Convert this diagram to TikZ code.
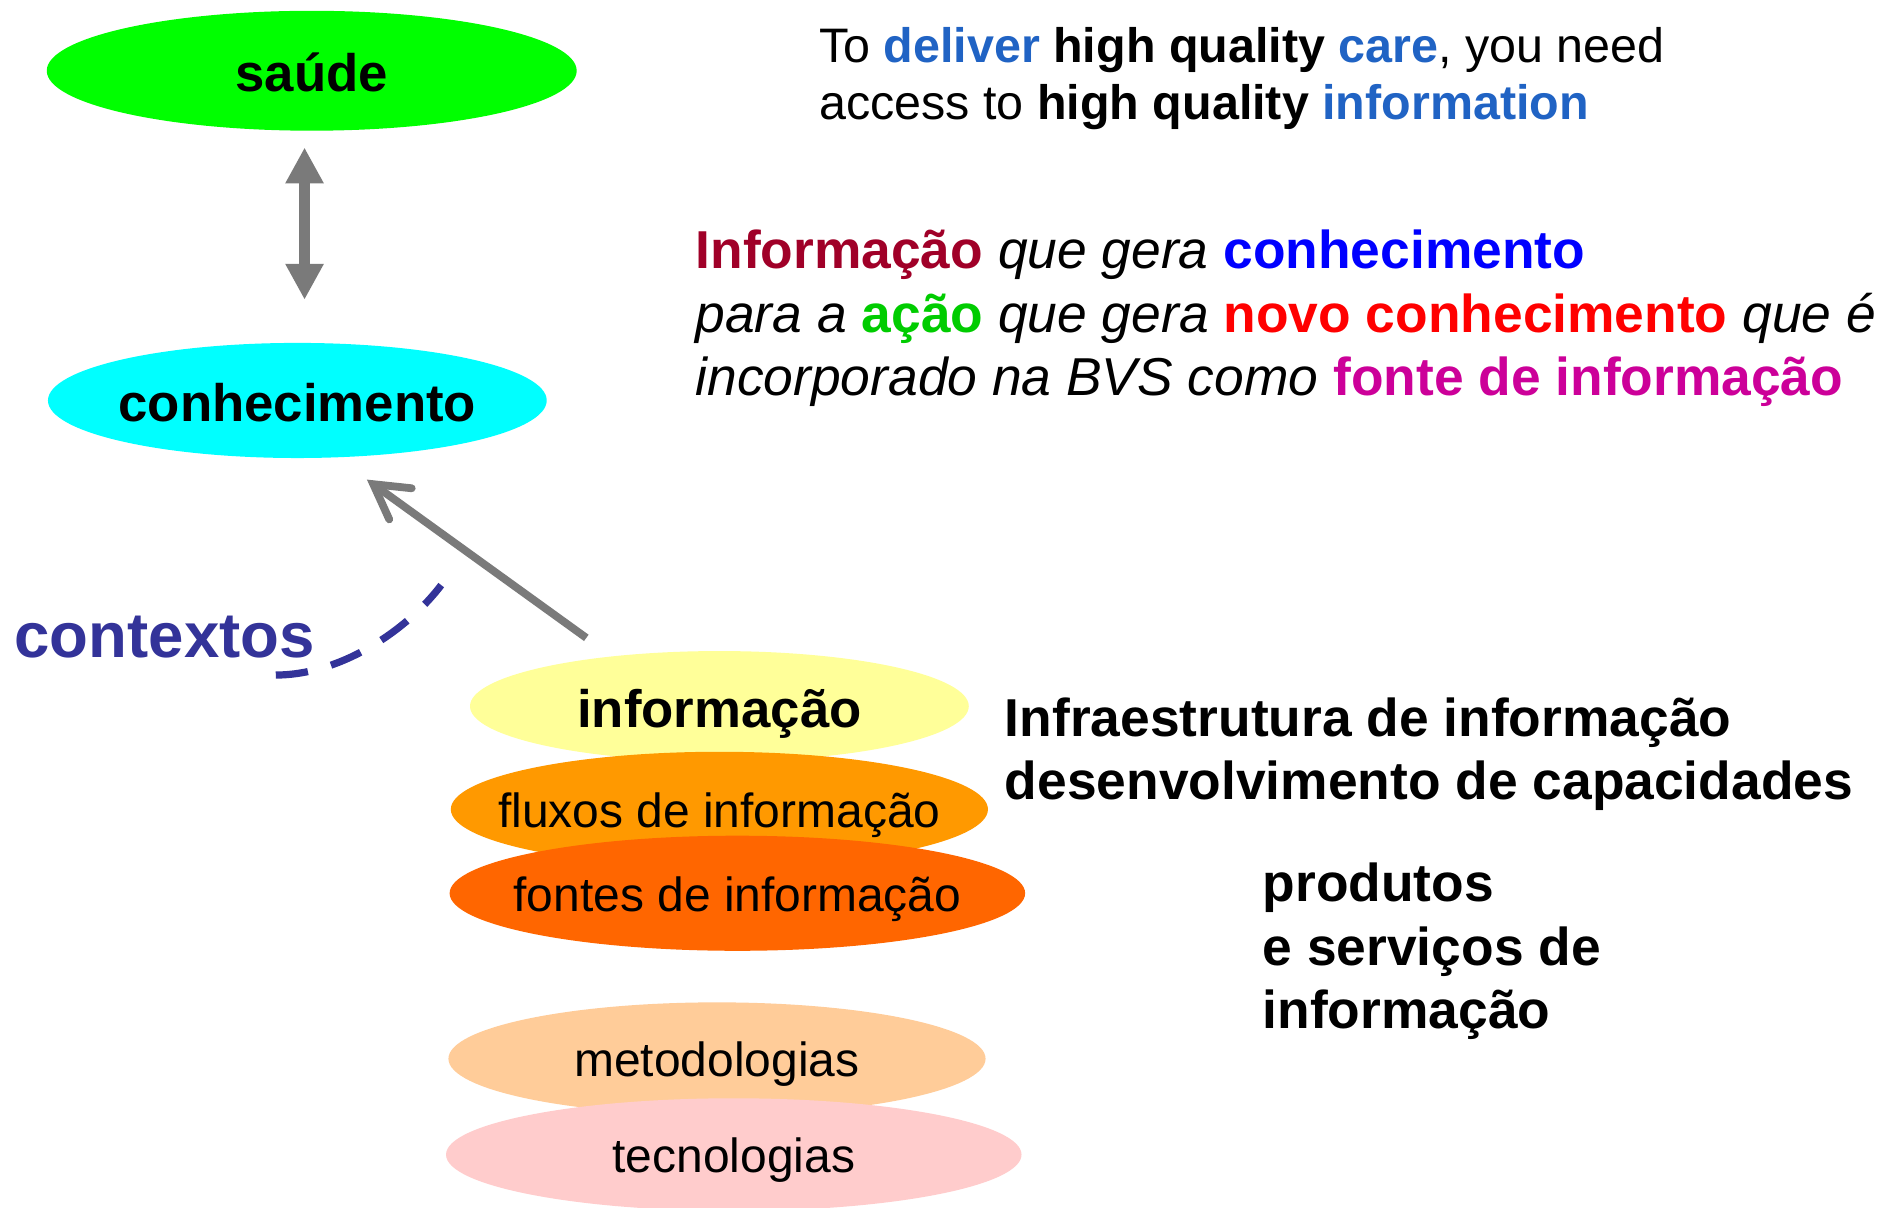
\documentclass[tikz,border=0pt]{standalone}
\usepackage{fontspec}
\setmainfont{Liberation Sans}
\usetikzlibrary{shapes.geometric,arrows.meta}
\definecolor{cgreen}{HTML}{00FF00}
\definecolor{ccyan}{HTML}{00FFFF}
\definecolor{cyel}{HTML}{FFFF99}
\definecolor{corange}{HTML}{FF9900}
\definecolor{cdorange}{HTML}{FF6600}
\definecolor{cpeach}{HTML}{FFCC99}
\definecolor{cpink}{HTML}{FFCCCC}
\definecolor{cgray}{HTML}{7A7A7A}
\definecolor{cctx}{HTML}{333399}
\definecolor{eblue}{HTML}{2063C4}
\definecolor{cdred}{HTML}{A00028}
\definecolor{cblue}{HTML}{0000FF}
\definecolor{cacao}{HTML}{00CC00}
\definecolor{cred}{HTML}{FF0000}
\definecolor{cmag}{HTML}{CC0099}
\newcommand\fsBig{\fontsize{44}{53}\selectfont\bfseries}
\newcommand\fsRight{\fontsize{44.5}{53}\selectfont\bfseries}
\newcommand\fsReg{\fontsize{40}{48}\selectfont}
\newcommand\fsEng{\fontsize{40.4}{48}\selectfont}
\newcommand\fsPt{\fontsize{44.5}{53}\selectfont}
\newcommand\fsCtx{\fontsize{53}{60}\selectfont\bfseries}
\begin{document}
\begin{tikzpicture}[x=1pt,y=-1pt,
  ell/.style={ellipse, draw=none, inner sep=0pt},
  lblb/.style={inner sep=0pt, text height=35pt, text depth=0pt, text=black, font=\fsBig},
  lblr/.style={inner sep=0pt, text height=30pt, text depth=0pt, text=black, font=\fsReg},
  txt/.style={inner sep=0pt, anchor=base west},
  dblarrow/.style={draw=cgray, line width=9pt, {Triangle[length=30pt,width=30pt]}-{Triangle[length=30pt,width=30pt]}},
  diagarrow/.style={draw=cgray, line width=6.5pt, -{Straight Barb[length=28pt,width=32pt,line cap=round,line join=miter]}},
  ctxline/.style={draw=cctx, line width=6pt, dash pattern=on 27pt off 20pt}
]
\useasboundingbox[fill=white] (0,0) rectangle (1568,1007);

% left ellipses
\node[ell, fill=cgreen, minimum width=442pt, minimum height=100pt,
      label={[lblb]center:saúde}] (saude) at (260,59) {};
\node[ell, fill=ccyan, minimum width=416pt, minimum height=96pt,
      label={[lblb]center:conhecimento}] (conh) at (248,334) {};

% stacked ellipses
\node[ell, fill=cyel, minimum width=416pt, minimum height=92pt,
      label={[lblb]center:informação}] (info) at (600,589) {};
\node[ell, fill=corange, minimum width=448pt, minimum height=96pt,
      label={[lblr]center:fluxos de informação}] (fluxos) at (600,675) {};
\node[ell, fill=cdorange, minimum width=480pt, minimum height=96pt,
      label={[lblr]center:fontes de informação}] (fontes) at (615,745) {};
\node[ell, fill=cpeach, minimum width=448pt, minimum height=94pt,
      label={[lblr]center:metodologias}] (metod) at (598,883) {};
\node[ell, fill=cpink, minimum width=480pt, minimum height=94pt,
      label={[lblr]center:tecnologias}] (tecno) at (612,963) {};

% arrows
\coordinate (dTop) at (254,123);
\coordinate (dBot) at (254,250);
\draw[dblarrow] (dTop) -- (dBot);

\coordinate (aStart) at (489,532);
\coordinate (aTip) at (306,400);
\draw[diagarrow] (aStart) -- (aTip);

% contextos
\node[txt, text=cctx, font=\fsCtx] (ctx) at (12,548) {contextos};
\coordinate (cA) at (230,563);
\coordinate (cB) at (368,488);
\draw[ctxline] (cA) .. controls (285,563) and (340,525) .. (cB);

% English text
\node[txt, font=\fsEng] (en1) at (683,52)
  {To \textbf{\textcolor{eblue}{deliver}} \textbf{high quality} \textbf{\textcolor{eblue}{care}}, you need};
\node[txt, font=\fsEng] (en2) at (683,100)
  {access to \textbf{high quality} \textbf{\textcolor{eblue}{information}}};

% Portuguese text
\node[txt, font=\fsPt] (pt1) at (580,224)
  {\textbf{\textcolor{cdred}{Informação}} \textit{que gera} \textbf{\textcolor{cblue}{conhecimento}}};
\node[txt, font=\fsPt] (pt2) at (580,277)
  {\textit{para a} \textbf{\textcolor{cacao}{ação}} \textit{que gera} \textbf{\textcolor{cred}{novo conhecimento}} \textit{que é}};
\node[txt, font=\fsPt] (pt3) at (580,330)
  {\textit{incorporado na BVS como} \textbf{\textcolor{cmag}{fonte de informação}}};

% right texts
\node[txt, font=\fsRight] (inf1) at (838,614) {Infraestrutura de informação};
\node[txt, font=\fsRight] (inf2) at (838,667) {desenvolvimento de capacidades};
\node[txt, font=\fsRight] (pr1) at (1053,752) {produtos};
\node[txt, font=\fsRight] (pr2) at (1053,805) {e serviços de};
\node[txt, font=\fsRight] (pr3) at (1053,858) {informação};
\end{tikzpicture}
\end{document}
